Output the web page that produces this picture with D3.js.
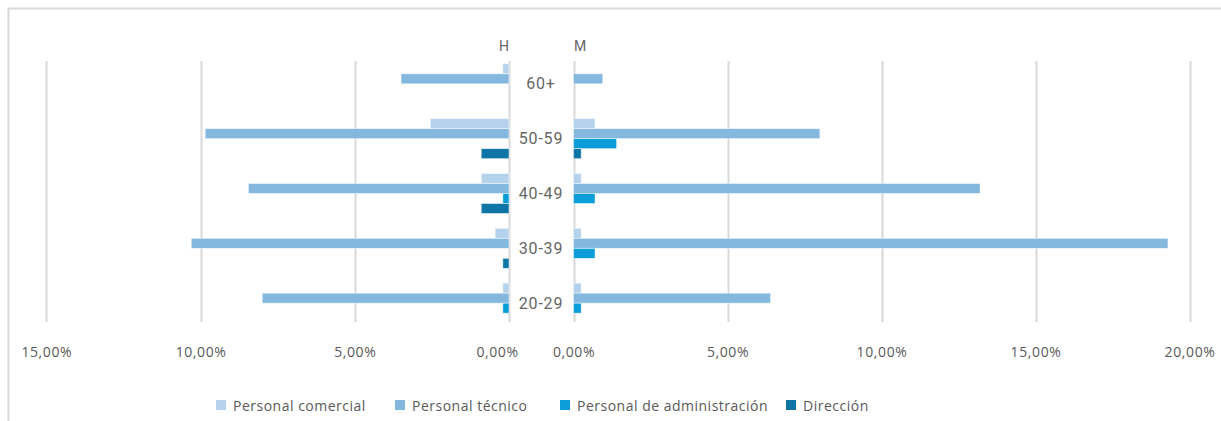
<!DOCTYPE html>
<html>
<head>
<meta charset="utf-8">
<script src="https://cdn.jsdelivr.net/npm/d3@7"></script>
<style>
  body { margin: 0; background: #fff; }
  text { font-family: "Open Sans", sans-serif; fill: #595959; }
</style>
</head>
<body>
<div id="chart"></div>
<script>
// categories (top to bottom) and series
var ageGroups = ["60+", "50-59", "40-49", "30-39", "20-29"];
var seriesNames = ["Personal comercial", "Personal técnico", "Personal de administración", "Dirección"];
var seriesColors = ["#b4d2eb", "#85b8df", "#0b9dd7", "#0e75a6"];

// H (hombres) values in %, one array per series, same order as ageGroups
var hComercial = [0.2, 2.55, 0.9, 0.45, 0.2];
var hTecnico = [3.5, 9.85, 8.45, 10.3, 8.0];
var hAdmin = [0, 0, 0.2, 0, 0.2];
var hDireccion = [0, 0.9, 0.9, 0.2, 0];

// M (mujeres) values in %
var mComercial = [0, 0.7, 0.25, 0.25, 0.25];
var mTecnico = [0.95, 8.0, 13.2, 19.3, 6.4];
var mAdmin = [0, 1.4, 0.7, 0.7, 0.25];
var mDireccion = [0, 0.25, 0, 0, 0];

// tick values
var hTicks = [0, 5, 10, 15];
var mTicks = [0, 5, 10, 15, 20];

var svgWidth = 1221;
var svgHeight = 421;

var svg = d3.select("#chart")
  .append("svg")
  .attr("width", svgWidth)
  .attr("height", svgHeight);

// frame (top and left edges only)
svg.append("path")
  .attr("d", "M8.5,421 V8.5 H1221")
  .attr("fill", "none")
  .attr("stroke", "#d9d9d9")
  .attr("stroke-width", 2);

var gridTop = 61;
var gridBottom = 322;

// scales
var xH = d3.scaleLinear().domain([0, 15]).range([509, 46.3]);
var xM = d3.scaleLinear().domain([0, 20]).range([573.5, 1189.5]);

var y = d3.scaleBand()
  .domain(ageGroups)
  .range([49, 338])
  .paddingInner(0.27)
  .paddingOuter(0.27);

var ySeries = d3.scaleBand()
  .domain(seriesNames)
  .range([0, y.bandwidth()]);

// gridlines
svg.append("g").selectAll("line")
  .data(hTicks)
  .enter()
  .append("line")
  .attr("x1", d => Math.round(xH(d)) + 0.5)
  .attr("x2", d => Math.round(xH(d)) + 0.5)
  .attr("y1", gridTop)
  .attr("y2", gridBottom)
  .attr("stroke", "#d9d9d9")
  .attr("stroke-width", 2);

svg.append("g").selectAll("line")
  .data(mTicks)
  .enter()
  .append("line")
  .attr("x1", d => Math.round(xM(d)) + 0.5)
  .attr("x2", d => Math.round(xM(d)) + 0.5)
  .attr("y1", gridTop)
  .attr("y2", gridBottom)
  .attr("stroke", "#d9d9d9")
  .attr("stroke-width", 2);

// build rows for bars
var hSeries = [hComercial, hTecnico, hAdmin, hDireccion];
var mSeries = [mComercial, mTecnico, mAdmin, mDireccion];

var hRows = [];
var mRows = [];
ageGroups.forEach(function(g, i) {
  seriesNames.forEach(function(s, j) {
    hRows.push({ group: g, series: s, color: seriesColors[j], value: hSeries[j][i] });
    mRows.push({ group: g, series: s, color: seriesColors[j], value: mSeries[j][i] });
  });
});

// bars H (grow to the left)
svg.append("g").selectAll("rect")
  .data(hRows.filter(d => d.value > 0))
  .enter()
  .append("rect")
  .attr("x", d => xH(d.value))
  .attr("y", d => y(d.group) + ySeries(d.series))
  .attr("width", d => xH(0) - xH(d.value))
  .attr("height", ySeries.bandwidth())
  .attr("fill", d => d.color)
  .attr("stroke", "rgba(255,255,255,0.6)")
  .attr("stroke-width", 0.8);

// bars M (grow to the right)
svg.append("g").selectAll("rect")
  .data(mRows.filter(d => d.value > 0))
  .enter()
  .append("rect")
  .attr("x", d => xM(0))
  .attr("y", d => y(d.group) + ySeries(d.series))
  .attr("width", d => xM(d.value) - xM(0))
  .attr("height", ySeries.bandwidth())
  .attr("fill", d => d.color)
  .attr("stroke", "rgba(255,255,255,0.6)")
  .attr("stroke-width", 0.8);

// axes
var fmt = d => d3.format(".2f")(d).replace(".", ",") + "%";

var hAxis = svg.append("g")
  .attr("transform", `translate(0, ${gridBottom})`)
  .call(d3.axisBottom(xH).tickValues(hTicks).tickFormat(fmt).tickSize(0).tickPadding(25));

var mAxis = svg.append("g")
  .attr("transform", `translate(0, ${gridBottom})`)
  .call(d3.axisBottom(xM).tickValues(mTicks).tickFormat(fmt).tickSize(0).tickPadding(25));

[hAxis, mAxis].forEach(function(ax) {
  ax.select(".domain").remove();
  ax.selectAll("text")
    .style("font-family", "'Open Sans', sans-serif")
    .style("font-size", "14px")
    .style("letter-spacing", "0.6px")
    .attr("fill", "#595959");
});
// left zero label sits a bit left of its line
hAxis.selectAll(".tick text").filter(d => d === 0).attr("dx", -12);

// category labels in the centre
svg.append("g").selectAll("text")
  .data(ageGroups)
  .enter()
  .append("text")
  .attr("x", 541)
  .attr("y", d => y(d) + y.bandwidth() / 2)
  .attr("dy", "0.35em")
  .attr("text-anchor", "middle")
  .style("font-family", "Roboto, sans-serif")
  .style("font-size", "16px")
  .style("letter-spacing", "0.8px")
  .style("fill", "#666")
  .text(d => d);

// H / M headers
svg.append("text")
  .attr("x", 504)
  .attr("y", 51)
  .attr("text-anchor", "middle")
  .style("font-family", "Roboto, sans-serif")
  .style("font-size", "14px")
  .style("fill", "#666")
  .text("H");

svg.append("text")
  .attr("x", 580)
  .attr("y", 51)
  .attr("text-anchor", "middle")
  .style("font-family", "Roboto, sans-serif")
  .style("font-size", "14px")
  .style("fill", "#666")
  .text("M");

// legend
var legendX = [216, 395, 560, 786];
var legend = svg.append("g").selectAll("g")
  .data(seriesNames)
  .enter()
  .append("g")
  .attr("transform", (d, i) => `translate(${legendX[i]}, 400)`);

legend.append("rect")
  .attr("width", 10)
  .attr("height", 10)
  .attr("fill", (d, i) => seriesColors[i]);

legend.append("text")
  .attr("x", 17)
  .attr("y", 10.5)
  .style("font-family", "'Open Sans', sans-serif")
  .style("font-size", "14px")
  .style("letter-spacing", "0.5px")
  .text(d => d);
</script>
</body>
</html>
